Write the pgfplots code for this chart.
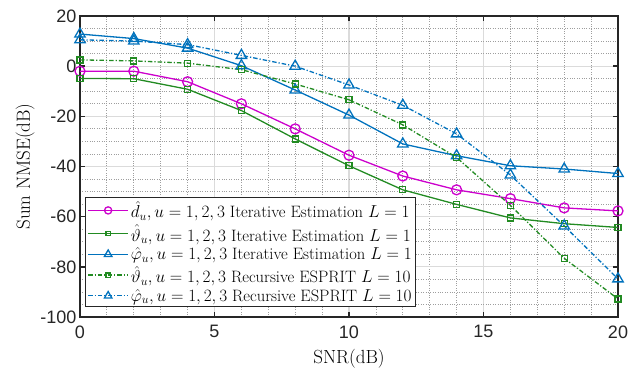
\documentclass[border=0pt]{standalone}
\usepackage{pgfplots}
\pgfplotsset{compat=1.18}
\usepackage{fontspec}
\newfontfamily\arialf{Liberation Sans}
\definecolor{mmag}{RGB}{204,0,204}
\definecolor{mgreen}{RGB}{34,139,34}
\definecolor{mblue}{RGB}{0,114,189}
\definecolor{axc}{RGB}{38,38,38}
\begin{document}
\begin{tikzpicture}
\begin{axis}[name=ax, scale only axis, width=538pt, height=301pt,
  xmin=0, xmax=20, ymin=-100, ymax=20,
  xtick={0,5,...,20}, ytick={-100,-80,...,20},
  minor x tick num=4, minor y tick num=3,
  grid=both,
  major grid style={draw=black!14, line width=1.1pt},
  minor grid style={draw=black!38, dotted, line width=0.8pt},
  minor tick length=0pt, major tick length=5pt,
  axis line style={draw=axc, line width=1.6pt},
  every tick/.style={draw=axc, line width=1.6pt},
  tick label style={font=\arialf\fontsize{18}{20}\selectfont, text=axc},
  /pgf/number format/assume math mode=true,
  xticklabel style={yshift=-5pt},
  label style={font=\fontsize{19}{22}\selectfont},
  xlabel={SNR(dB)}, ylabel={Sum NMSE(dB)},
  xlabel style={at={(axis description cs:0.5,-0.1395)}, anchor=center},
  ylabel style={at={(axis description cs:-0.1022,0.5)}, anchor=center},
  clip=false,
  legend style={at={(rel axis cs:0.0093,0.033)}, anchor=south west, draw=axc, line width=1pt, fill=white,
    font=\fontsize{16.5}{19.5}\selectfont, cells={anchor=west}, inner sep=2pt, row sep=1pt},
  legend image code/.code={\draw[mark repeat=2,mark phase=2,#1,every mark/.append style={scale=0.72}] plot coordinates {(0pt,0pt) (20pt,0pt) (40pt,0pt)};},
]
\addplot[mmag, line width=1.3pt, mark=o, mark size=5pt] coordinates {
(0,-2) (2,-2) (4,-6.2) (6,-15) (8,-25) (10,-35.5) (12,-43.8) (14,-49.3) (16,-52.8) (18,-56.5) (20,-57.7)};
\addlegendentry{$\hat{d}_u, u = 1,2,3$ Iterative Estimation $L = 1$}
\addplot[mgreen, line width=1.3pt, mark=square, mark size=3pt] coordinates {
(0,-4.9) (2,-5) (4,-9.2) (6,-17.7) (8,-29) (10,-39.7) (12,-49.3) (14,-55.1) (16,-60.5) (18,-62.8) (20,-64.3)};
\addlegendentry{$\hat{\vartheta}_u, u = 1,2,3$ Iterative Estimation $L = 1$}
\addplot[mblue, line width=1.3pt, mark=triangle, mark size=6pt] coordinates {
(0,12.8) (2,11) (4,7.2) (6,0.2) (8,-9.5) (10,-19.5) (12,-31) (14,-35.7) (16,-39.7) (18,-41) (20,-42.8)};
\addlegendentry{$\hat{\varphi}_u, u = 1,2,3$ Iterative Estimation $L = 1$}
\addplot[mgreen, line width=1.3pt, dash pattern=on 4.5pt off 2pt on 1.2pt off 2pt, mark=square, mark size=3pt, mark options={solid}] coordinates {
(0,2.5) (2,2.1) (4,1.2) (6,-1.4) (8,-7.1) (10,-13.4) (12,-23.4) (14,-36.4) (16,-55.5) (18,-76.6) (20,-92.8)};
\addlegendentry{$\hat{\vartheta}_u, u = 1,2,3$ Recursive ESPRIT $L = 10$}
\addplot[mblue, line width=1.3pt, dash pattern=on 4.5pt off 2pt on 1.2pt off 2pt, mark=triangle, mark size=6pt, mark options={solid}] coordinates {
(0,10.5) (2,10) (4,8.6) (6,4.3) (8,0) (10,-7.5) (12,-15.6) (14,-27) (16,-43.4) (18,-63.7) (20,-84.8)};
\addlegendentry{$\hat{\varphi}_u, u = 1,2,3$ Recursive ESPRIT $L = 10$}
\end{axis}
\pgfresetboundingbox
\path (-80pt,-56pt) rectangle (557pt,317pt);
\end{tikzpicture}
\end{document}
